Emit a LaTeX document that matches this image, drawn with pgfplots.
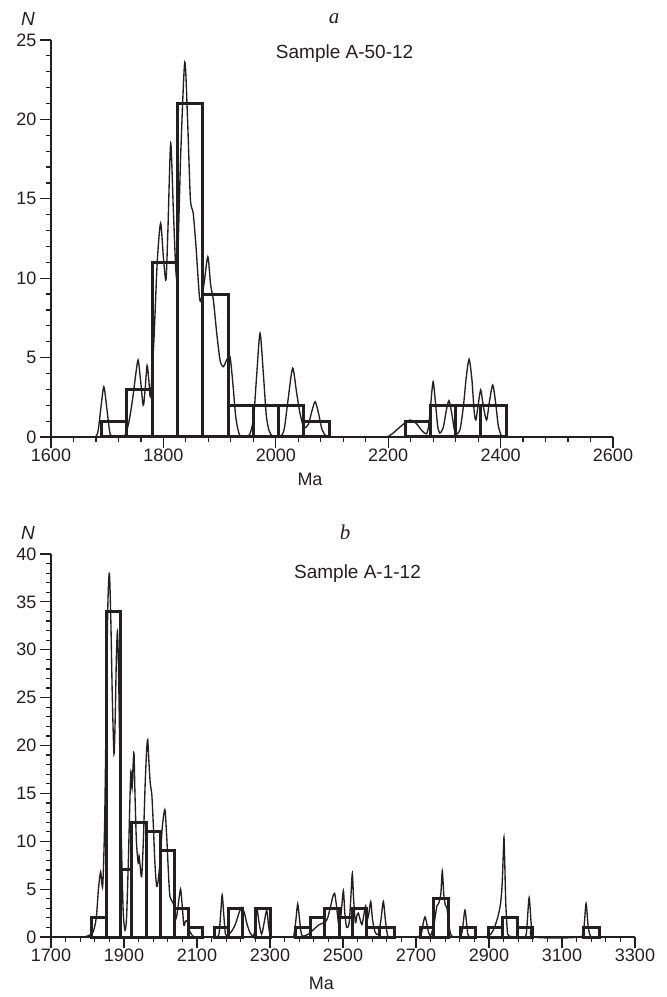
\documentclass[border=0pt]{standalone}
\usepackage{fontspec}
\setmainfont{Liberation Sans}
\newfontfamily\serif{Liberation Serif}
\usepackage{pgfplots}
\pgfplotsset{compat=1.18}
\definecolor{ink}{HTML}{231F20}

\pgfplotsset{
  histo/.style={
    scale only axis, anchor=south west,
    axis lines=left, axis line style={ink, line width=1.3pt, -},
    tick align=outside,
    major tick length=11pt, minor tick length=5pt,
    every tick/.style={ink, line width=1.2pt},
    tick label style={font=\fontsize{18}{18}\selectfont, text=ink},
    x tick label style={yshift=2.5pt},
    /pgf/number format/assume math mode=true,
    /pgf/number format/1000 sep={},
    minor x tick num=4, minor y tick num=4,
    clip=false,
  },
  bars/.style={ybar interval, draw=ink, fill=none, line width=3pt},
  kde/.style={ink, line width=1.35pt, smooth, tension=0.45, mark=none},
}

\begin{document}
\begin{tikzpicture}
\useasboundingbox (0,0) rectangle (667pt,997pt);

% ---- panel a
\begin{axis}[histo, at={(51pt,560pt)}, width=562pt, height=397pt,
  xmin=1600, xmax=2600, ymin=0, ymax=25,
  xtick={1600,1800,...,2600}, ytick={0,5,...,25}]
\addplot[bars] coordinates {(1690,1) (1735,3) (1780,11) (1825,21) (1870,9)
  (1915,2) (1960,2) (2005,2) (2050,1) (2095,0)};
\addplot[bars] coordinates {(2230,1) (2275,2) (2320,2) (2365,2) (2410,0)};
\addplot[kde] coordinates {
(1640,0) (1675,0) (1680,0.03) (1684,0.43) (1689,1.9) (1694,3.17) (1699,1.9)
(1704,0.43) (1708,0.05) (1728,0.02) (1734,0.3) (1740,1.2) (1746,2.6) (1751,4.0)
(1755,4.85) (1759,3.7) (1764,2.0) (1767,2.8) (1771,4.5) (1774,3.6) (1777,2.6)
(1783,6) (1789,11) (1795,13.46) (1800,11.3) (1804.6,9.9) (1808,13) (1813,18.5)
(1818,14) (1824,10) (1831,18) (1838,23.6) (1843,20) (1848,15) (1853,14.1)
(1858,12) (1865,8.6) (1872,9.6) (1879,11.35) (1884,9.6) (1889,8.6) (1895,6.5)
(1901,4.8) (1906.6,4.43) (1912,4.8) (1918.5,5.06) (1924,3.2) (1929,1.2)
(1936,0.1) (1950,0.02) (1956,0.4) (1961,1.4) (1966,3.9) (1972,6.53) (1978,3.9)
(1983,1.4) (1988,0.4) (1995,0.02) (2008,0.02) (2015,0.5) (2022,2.4) (2030,4.33)
(2037,2.8) (2043,1.5) (2050,0.6) (2058,0.8) (2064,1.6) (2070,2.22) (2076,1.5)
(2082,0.5) (2090,0.03) (2100,0) (2190,0) (2205,0.15) (2220,0.6) (2232,0.95)
(2240,1.07) (2250,0.85) (2260,0.4) (2268,0.2) (2272,0.7) (2276,2.2) (2280,3.48)
(2284,2.2) (2288,0.7) (2292,0.25) (2298,0.6) (2303,1.6) (2308,2.29) (2313,1.5)
(2318,0.4) (2321,0.15) (2328,0.5) (2334,2.0) (2339,3.8) (2344,4.9) (2349,3.6)
(2353,1.6) (2356,1.07) (2360,2.0) (2364.6,2.96) (2369,2.0) (2375,1.07)
(2380,2.2) (2386,3.27) (2391,2.2) (2396,0.7) (2402,0.05) (2410,0) (2500,0)};
\end{axis}

% ---- panel b
\begin{axis}[histo, at={(51pt,60pt)}, width=584pt, height=383pt,
  xmin=1700, xmax=3300, ymin=0, ymax=40,
  xtick={1700,1900,...,3300}, ytick={0,5,...,40}]
\addplot[bars] coordinates {(1810,2) (1851,34) (1891,7) (1921,12) (1962,11)
  (2001,9) (2038,3) (2076,1) (2116,0)};
\addplot[bars] coordinates {(2147,1) (2186,3) (2225,0)};
\addplot[bars] coordinates {(2259,3) (2302,0)};
\addplot[bars] coordinates {(2371,1) (2410,2) (2449,3) (2490,2) (2527,3)
  (2565,1) (2601,1) (2641,0)};
\addplot[bars] coordinates {(2711,1) (2749,4) (2790,0)};
\addplot[bars] coordinates {(2822,1) (2864,0)};
\addplot[bars] coordinates {(2898,1) (2938,2) (2978,1) (3019,0)};
\addplot[bars] coordinates {(3158,1) (3202,0)};
\addplot[kde] coordinates {
(1700,0) (1780,0) (1800,0.1) (1815,0.5) (1824,2) (1830,5) (1836,6.8)
(1841.6,5.3) (1847,12) (1852,26) (1856,35) (1860,38) (1864,33) (1868,25)
(1872.6,19.1) (1876,23) (1879,29) (1882,31.9) (1885,28) (1889,18) (1894,8)
(1898,2.5) (1902.7,0.7) (1907,2) (1912,8) (1916,14) (1919,17.3) (1922,15.5)
(1925,18) (1927.4,19.2) (1930,15) (1934,10) (1939,7.7) (1941.5,8.4) (1944,7.5)
(1948.4,6.3) (1953,10) (1958,16) (1962,19.5) (1965,20.6) (1968,18.5) (1972,16)
(1976,15) (1980,12) (1985,7.5) (1989.5,5.3) (1994,6) (1999,8) (2005,11.5)
(2012,13.3) (2017,10.5) (2022,6.5) (2026,4.2) (2035,3.5) (2043,2.0) (2049,3.5)
(2055,5.0) (2060,3.0) (2064,1.25) (2068,1.6) (2073,1.7) (2080,0.6) (2090,0.05)
(2100,0) (2150,0) (2160,0.3) (2165,2.5) (2169,4.4) (2173,2.5) (2178,0.3)
(2185,0.2) (2195,0.6) (2205,1.3) (2215,2.5) (2222.5,3.1) (2230,2.5) (2238,1.2)
(2246,0.4) (2253,0.1) (2258,0.5) (2261,1.8) (2265,2.8) (2270,1.5) (2277,0.3)
(2284,1.5) (2291,2.8) (2296,1.2) (2300,0.2) (2305,0) (2360,0) (2366,0.3)
(2371,1.8) (2376,3.45) (2381,1.8) (2386,0.3) (2392,0.1) (2405,0.3) (2420,0.8)
(2435,1.3) (2444,1.43) (2452,1.6) (2458,2.0) (2466,3.2) (2472,4.2) (2477,4.56)
(2482,3.3) (2487,1.6) (2490,1.1) (2495,2.5) (2501,4.84) (2505,2.5) (2510,1.0)
(2517,1.5) (2522,4.5) (2525.6,6.65) (2529,4.0) (2534,1.5) (2538,2.2) (2542,2.5)
(2547,1.8) (2552,1.3) (2557,2.3) (2562,3.24) (2566,1.8) (2571,2.5) (2576,3.7)
(2581,1.8) (2588,0.5) (2597,0.3) (2604,1.8) (2610.5,3.7) (2616,1.8) (2622,0.2)
(2630,0) (2700,0) (2714,0.3) (2720,1.5) (2724.7,2.1) (2729,1.5) (2735,0.4)
(2741,0.2) (2750,1.5) (2757,3.2) (2762,3.5) (2768,4.5) (2772,6.9) (2776,4.5)
(2780,3.4) (2785,3.0) (2790,1.2) (2796,0.2) (2805,0) (2822,0) (2828,1.0)
(2834,2.8) (2840,1.0) (2846,0.05) (2890,0) (2905,0.3) (2915,1.0) (2925,2.2)
(2932,3.6) (2936,5.5) (2939,8.5) (2941,10.4) (2943,8.0) (2946,3.5) (2950,0.8)
(2955,0.1) (2998,0) (3004,1.2) (3010,4.1) (3016,1.2) (3022,0) (3150,0)
(3160,1.0) (3166,3.5) (3172,1.0) (3180,0) (3200,0)};
\end{axis}

% ---- texts
\node[anchor=center, font=\fontsize{19}{19}\selectfont\itshape, text=ink] at (28pt,978pt) {N};
\node[anchor=base, font=\fontsize{21}{21}\selectfont\serif\itshape, text=ink] at (334pt,973pt) {a};
\node[anchor=base, font=\fontsize{19}{19}\selectfont, text=ink] at (344.6pt,938.4pt) {Sample A-50-12};
\node[anchor=base, font=\fontsize{18}{18}\selectfont, text=ink] at (310pt,511pt) {Ma};

\node[anchor=center, font=\fontsize{19}{19}\selectfont\itshape, text=ink] at (28pt,464pt) {N};
\node[anchor=base, font=\fontsize{21}{21}\selectfont\serif\itshape, text=ink] at (345pt,457pt) {b};
\node[anchor=base, font=\fontsize{19}{19}\selectfont, text=ink] at (357.5pt,418.4pt) {Sample A-1-12};
\node[anchor=base, font=\fontsize{18}{18}\selectfont, text=ink] at (321.5pt,7pt) {Ma};
\end{tikzpicture}
\end{document}
